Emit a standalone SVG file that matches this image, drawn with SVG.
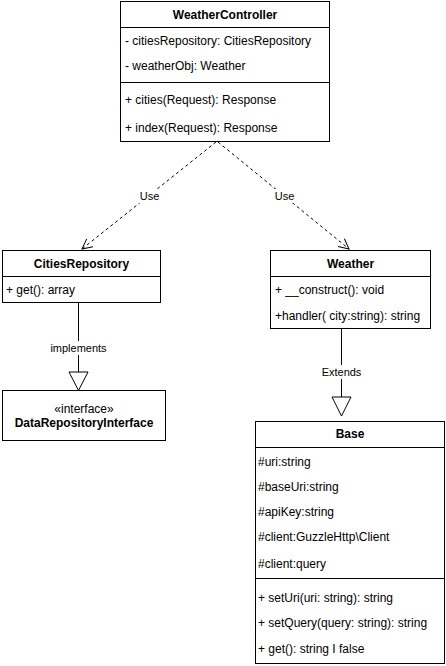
<svg xmlns="http://www.w3.org/2000/svg" width="446" height="666" viewBox="0 0 446 666">
<defs>
<style>
.box{fill:#fff;stroke:#000;stroke-width:1}
.ln{stroke:#000;stroke-width:1;fill:none}
.dash{stroke:#000;stroke-width:1;fill:none;stroke-dasharray:3 3}
text{font-family:"Liberation Sans",Arial,Helvetica,sans-serif;font-size:12px;fill:#000}
.t{font-weight:bold;text-anchor:middle}
.c{text-anchor:middle}
.lbl{font-size:11px;text-anchor:middle}
.lb{fill:#fff;stroke:none}
</style>
<marker id="vee" viewBox="0 0 12 12" refX="11" refY="6" markerWidth="12" markerHeight="12" markerUnits="userSpaceOnUse" orient="auto">
<path d="M1,1 L11,6 L1,11" fill="none" stroke="#000" stroke-width="1"/>
</marker>
</defs>
<g id="connectors">
<line class="dash" x1="216" y1="142" x2="82" y2="249" marker-end="url(#vee)"/>
<rect class="lb" x="138" y="189" width="23" height="14"/>
<text class="lbl" x="149.5" y="200">Use</text>
<line class="dash" x1="218" y1="142" x2="349" y2="249" marker-end="url(#vee)"/>
<rect class="lb" x="273" y="189" width="23" height="14"/>
<text class="lbl" x="284.5" y="200">Use</text>
<line class="ln" x1="78.5" y1="302" x2="78.5" y2="372"/>
<path class="ln" d="M69,372 L88,372 L78.5,390.5 Z" fill="#fff"/>
<rect class="lb" x="50" y="341" width="57" height="14"/>
<text class="lbl" x="78.5" y="352">implements</text>
<line class="ln" x1="341.5" y1="328" x2="341.5" y2="397"/>
<path class="ln" d="M332,397 L351,397 L341.5,416 Z" fill="#fff"/>
<rect class="lb" x="320" y="365" width="43" height="14"/>
<text class="lbl" x="341.5" y="376">Extends</text>
</g>
<g id="WeatherController">
<rect class="box" x="120.5" y="1.5" width="209" height="140"/>
<line class="ln" x1="120.5" y1="27.5" x2="329.5" y2="27.5"/>
<line class="ln" x1="120.5" y1="82.5" x2="329.5" y2="82.5"/>
<text class="t" x="225" y="19">WeatherController</text>
<text x="125" y="45">- citiesRepository: CitiesRepository</text>
<text x="125" y="70">- weatherObj: Weather</text>
<text x="125" y="104">+ cities(Request): Response</text>
<text x="125" y="132">+ index(Request): Response</text>
</g>
<g id="CitiesRepository">
<rect class="box" x="2.5" y="250.5" width="158" height="52"/>
<line class="ln" x1="2.5" y1="276.5" x2="160.5" y2="276.5"/>
<text class="t" x="81.5" y="268">CitiesRepository</text>
<text x="6" y="294">+ get(): array</text>
</g>
<g id="Weather">
<rect class="box" x="270.5" y="250.5" width="160" height="78"/>
<line class="ln" x1="270.5" y1="276.5" x2="430.5" y2="276.5"/>
<text class="t" x="350.5" y="268">Weather</text>
<text x="275" y="294">+ __construct(): void</text>
<text x="275" y="320">+handler( city:string): string</text>
</g>
<g id="DataRepositoryInterface">
<rect class="box" x="2.5" y="390.5" width="163" height="50"/>
<text class="c" x="84" y="413">«interface»</text>
<text class="t" x="84" y="427">DataRepositoryInterface</text>
</g>
<g id="Base">
<rect class="box" x="255.5" y="421.5" width="189" height="242"/>
<line class="ln" x1="255.5" y1="447.5" x2="444.5" y2="447.5"/>
<line class="ln" x1="255.5" y1="578.5" x2="444.5" y2="578.5"/>
<text class="t" x="350" y="438">Base</text>
<text x="258" y="466">#uri:string</text>
<text x="258" y="491">#baseUri:string</text>
<text x="258" y="516">#apiKey:string</text>
<text x="258" y="541">#client:GuzzleHttp\Client</text>
<text x="258" y="568">#client:query</text>
<text x="258" y="602">+ setUri(uri: string): string</text>
<text x="258" y="627">+ setQuery(query: string): string</text>
<text x="258" y="653">+ get(): string I false</text>
</g>
</svg>
